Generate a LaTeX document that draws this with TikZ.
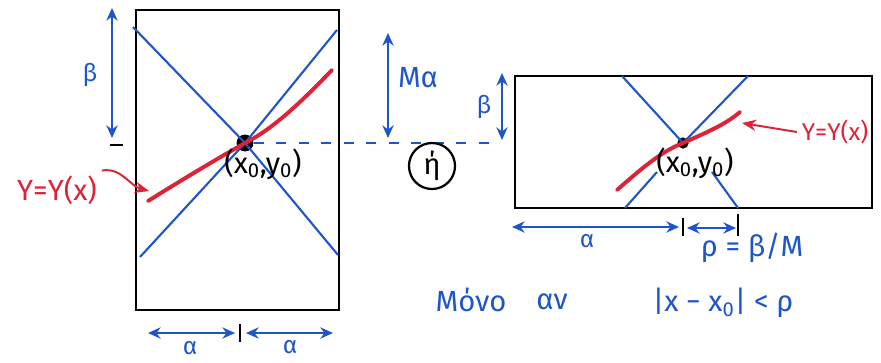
\documentclass[tikz,border=0pt]{standalone}
\usepackage{fontspec}
\setmainfont{Fira Sans}
\usetikzlibrary{arrows.meta}
\definecolor{penblue}{RGB}{30,85,200}
\definecolor{penred}{RGB}{220,35,55}
\tikzset{%
	box/.style = { draw=black, line width=1.8pt },
	cone/.style = { penblue, line width=1.5pt },
	curve/.style = { penred, line width=2.8pt, line cap=round },
	pointer/.style = { penred, line width=1.4pt, -{Stealth[length=10pt,width=8pt]} },
	dim/.style = { penblue, line width=1.9pt, {Stealth[length=9pt,width=8pt]}-{Stealth[length=9pt,width=8pt]} },
	tickmark/.style = { black, line width=1.5pt },
	guide/.style = { penblue, line width=1.4pt, dash pattern=on 7pt off 9pt },
	bluelabel/.style = { penblue, font=\LARGE },
	biglabel/.style = { penblue, font=\huge },
	ptlabel/.style = { black, font=\huge },
	redlabel/.style = { penred, font=\huge },
	dot/.style = { circle, fill=black, inner sep=0pt }
}

\begin{document}
\begin{tikzpicture}[x=0.025cm, y=-0.025cm]
	\useasboundingbox (0,0) rectangle (881,362);

	% 1. left box
	\draw[box] (136,10) rectangle (339,310);
	\node[dot, minimum size=12pt] (P) at (245,143) {};
	\draw[cone] (133,27) -- (P.center) -- (338,255);
	\draw[cone] (140,257) -- (P.center) -- (337,30);
	\draw[curve] (148,201) .. controls (185,178) and (215,160) .. (P.center)
		.. controls (275,128) and (305,98) .. (332,70);
	\node[ptlabel] (Plab) at (263,164) {(x\textsubscript{0},y\textsubscript{0})};
	\node[redlabel] (Ylab) at (57,190) {Y=Y(x)};
	\draw[pointer] (Ylab.north east) to[out=10, in=165] (149,191);

	% heights on the left box
	\coordinate (b1) at (112,8);
	\coordinate (b2) at (112,138);
	\draw[dim] (b1) -- (b2);
	\node[bluelabel] (beta) at (90,75) {β};
	\draw[tickmark] (110,145) -- (123,145);
	\coordinate (m1) at (388,33);
	\coordinate (m2) at (388,138);
	\draw[dim] (m1) -- (m2);
	\node[biglabel] (Ma) at (418,78) {Mα};

	% widths under the left box
	\coordinate (a1) at (148,333);
	\coordinate (a2) at (235,333);
	\coordinate (a3) at (246,333);
	\coordinate (a4) at (333,333);
	\draw[dim] (a1) -- (a2);
	\draw[dim] (a3) -- (a4);
	\draw[tickmark] (240,324) -- (240,342);
	\node[bluelabel] (al1) at (190,348) {α};
	\node[bluelabel] (al2) at (290,347) {α};

	% 2. link between the two boxes
	\coordinate (dashend) at (492,143);
	\draw[guide] (P) -- (dashend);
	\node[circle, draw, line width=1.6pt, minimum size=1.15cm, inner sep=0pt, font=\huge] (or) at (432,166) {ή};

	% 3. right box
	\draw[box] (515,76) rectangle (872,208);
	\node[dot, minimum size=8pt] (Q) at (683,143) {};
	\draw[cone] (622,76) -- (Q.center) -- (748,76);
	\draw[cone] (657,172) -- (625,208);
	\draw[cone] (712,172) -- (738,208);
	\draw[curve] (617,190) .. controls (640,170) and (660,152) .. (Q.center)
		.. controls (705,133) and (725,125) .. (740,112);
	\node[ptlabel] (Qlab) at (695,163) {(x\textsubscript{0},y\textsubscript{0})};
	\node[redlabel, font=\LARGE] (YlabR) at (835,132) {Y=Y(x)};
	\coordinate (tipR) at (742,123);
	\draw[pointer] (YlabR.west) -- (tipR);

	\coordinate (c1) at (502,73);
	\coordinate (c2) at (502,140);
	\draw[dim] (c1) -- (c2);
	\node[bluelabel] (betaR) at (484,107) {β};

	% widths under the right box
	\coordinate (d1) at (512,227);
	\coordinate (d2) at (679,227);
	\coordinate (d3) at (687,228);
	\coordinate (d4) at (736,228);
	\draw[dim] (d1) -- (d2);
	\draw[dim] (d3) -- (d4);
	\draw[tickmark] (683,218) -- (683,236);
	\draw[tickmark] (738,214) -- (738,236);
	\node[bluelabel] (alR) at (587,241) {α};
	\node[biglabel] (rho) at (752,248) {ρ = β/M};

	% 4. condition
	\node[biglabel] (only) at (471,300) {Μόνο};
	\node[biglabel] (if) at (552,302) {αν};
	\node[biglabel] (cond) at (723,303) {|x − x\textsubscript{0}| < ρ};
\end{tikzpicture}
\end{document}
